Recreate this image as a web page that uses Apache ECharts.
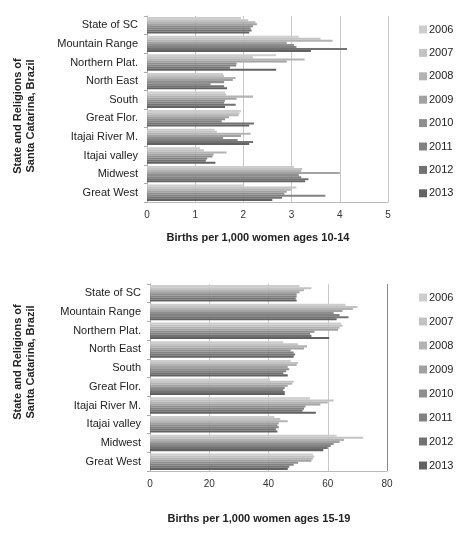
<!DOCTYPE html>
<html><head><meta charset="utf-8">
<script src="https://cdn.jsdelivr.net/npm/echarts@6/dist/echarts.min.js"></script>
<style>html,body{margin:0;padding:0;background:#fff}#c{width:471px;height:535px}</style>
</head><body><div id="c"></div>
<script>
const categories = ["State of SC","Mountain Range","Northern Plat.","North East","South","Great Flor.","Itajai River M.","Itajai valley","Midwest","Great West"];
const years = ["2006","2007","2008","2009","2010","2011","2012","2013"];
// values per region, years 2006..2013
const teen10_14 = [
  [1.95,2.10,2.25,2.28,2.20,2.15,2.17,2.12],
  [3.15,3.60,3.85,2.90,3.05,3.10,4.15,3.40],
  [2.68,2.20,3.27,2.90,1.86,1.85,1.72,2.68],
  [1.58,1.60,1.84,1.78,1.60,1.32,1.60,1.66],
  [1.62,1.64,2.20,1.86,1.62,1.60,1.84,1.62],
  [1.95,1.92,1.90,1.70,1.62,1.55,2.22,2.12],
  [1.40,1.45,2.15,1.95,1.58,1.88,2.20,2.12],
  [1.10,1.18,1.65,1.38,1.36,1.25,1.22,1.42],
  [3.05,3.22,3.20,4.00,3.15,3.20,3.35,3.28],
  [2.00,3.10,3.00,2.90,2.85,3.70,2.80,2.60]
];
const teen15_19 = [
  [50.5,54.5,52.0,50.5,49.5,49.5,49.2,49.5],
  [66.0,70.0,68.5,65.0,62.0,64.0,67.0,63.0],
  [64.5,65.0,64.0,63.5,55.5,54.0,54.5,60.5],
  [45.0,50.0,53.0,52.0,47.5,48.5,49.0,48.5],
  [47.5,50.0,49.5,46.5,47.0,46.0,45.0,46.5],
  [40.5,48.5,48.0,46.5,45.5,45.0,45.5,45.5],
  [54.0,62.0,60.0,57.5,52.5,52.0,51.5,56.0],
  [42.0,44.0,46.5,43.5,43.0,43.5,42.5,43.0],
  [63.0,72.0,65.5,64.0,62.0,61.0,60.0,58.5],
  [55.0,55.5,55.0,54.5,50.0,48.5,47.0,46.5]
];
const xTitles = ["Births per 1,000 women ages 10-14","Births per 1,000 women ages 15-19"];
const yTitle = "State and Religions of\nSanta Catarina, Brazil";

const colors = ["#cdcdcd","#c3c3c3","#b3b3b3","#a2a2a2","#8e8e8e","#828282","#727272","#626262"];
const font = "Liberation Sans, Arial, sans-serif";

const grids = [
  {left:147, top:16, width:241, height:186},
  {left:150, top:284, width:237, height:187}
];
const xAxes = [
  {gridIndex:0, type:'value', min:0, max:5, interval:1},
  {gridIndex:1, type:'value', min:0, max:80, interval:20}
].map((a,i)=>Object.assign(a,{
  axisLine:{show:true, lineStyle:{color:'#bbb'}},
  axisTick:{show:false},
  axisLabel:{color:'#333', fontSize:10, fontFamily:font, margin:8},
  splitLine:{show:true, lineStyle:{color: i===0 ? ['#c8c8c8'] : ['#c8c8c8','#c8c8c8','#c8c8c8','#c8c8c8','#8a8a8a'], width:1}}
}));
const yAxes = [0,1].map(i=>({
  gridIndex:i, type:'category', data:categories, inverse:true,
  axisLine:{show:true, lineStyle:{color:'#aaa'}},
  axisTick:{show:true, inside:false, length:3, lineStyle:{color:'#aaa'}},
  axisLabel:{color:'#222', fontSize:11, fontFamily:font, margin:9}
}));

const series = [];
[teen10_14, teen15_19].forEach((data,gi)=>{
  years.forEach((y,yi)=>{
    series.push({
      name:y, type:'bar', xAxisIndex:gi, yAxisIndex:gi,
      data: data.map(r=>r[yi]),
      itemStyle:{color:colors[yi]},
      barGap:'0%', barCategoryGap:'12%'
    });
  });
});

const legends = [
  {top:24, left:419, itemGap:12.4},
  {top:292, left:419, itemGap:13}
].map(p=>Object.assign(p,{
  orient:'vertical', data:years, itemWidth:8, itemHeight:8, padding:0,
  icon:'rect', textStyle:{fontSize:11, color:'#222', fontFamily:font, padding:[0,0,0,-3]}
}));

const chart = echarts.init(document.getElementById('c'), null, {renderer:'canvas'});
chart.setOption({
  animation:false,
  color:colors,
  grid:grids, xAxis:xAxes, yAxis:yAxes, legend:legends, series:series,
  graphic:[
    {type:'text', x:258, y:232, style:{text:xTitles[0], fontSize:11, fontWeight:'bold', fontFamily:font, fill:'#222', align:'center'}},
    {type:'text', x:259, y:513, style:{text:xTitles[1], fontSize:11, fontWeight:'bold', fontFamily:font, fill:'#222', align:'center'}},
    {type:'text', x:24, y:116, rotation:Math.PI/2, style:{text:yTitle, fontSize:11, fontWeight:'bold', fontFamily:font, fill:'#222', align:'center', verticalAlign:'middle', lineHeight:13}},
    {type:'text', x:24, y:362, rotation:Math.PI/2, style:{text:yTitle, fontSize:11, fontWeight:'bold', fontFamily:font, fill:'#222', align:'center', verticalAlign:'middle', lineHeight:13}}
  ]
});
</script></body></html>
